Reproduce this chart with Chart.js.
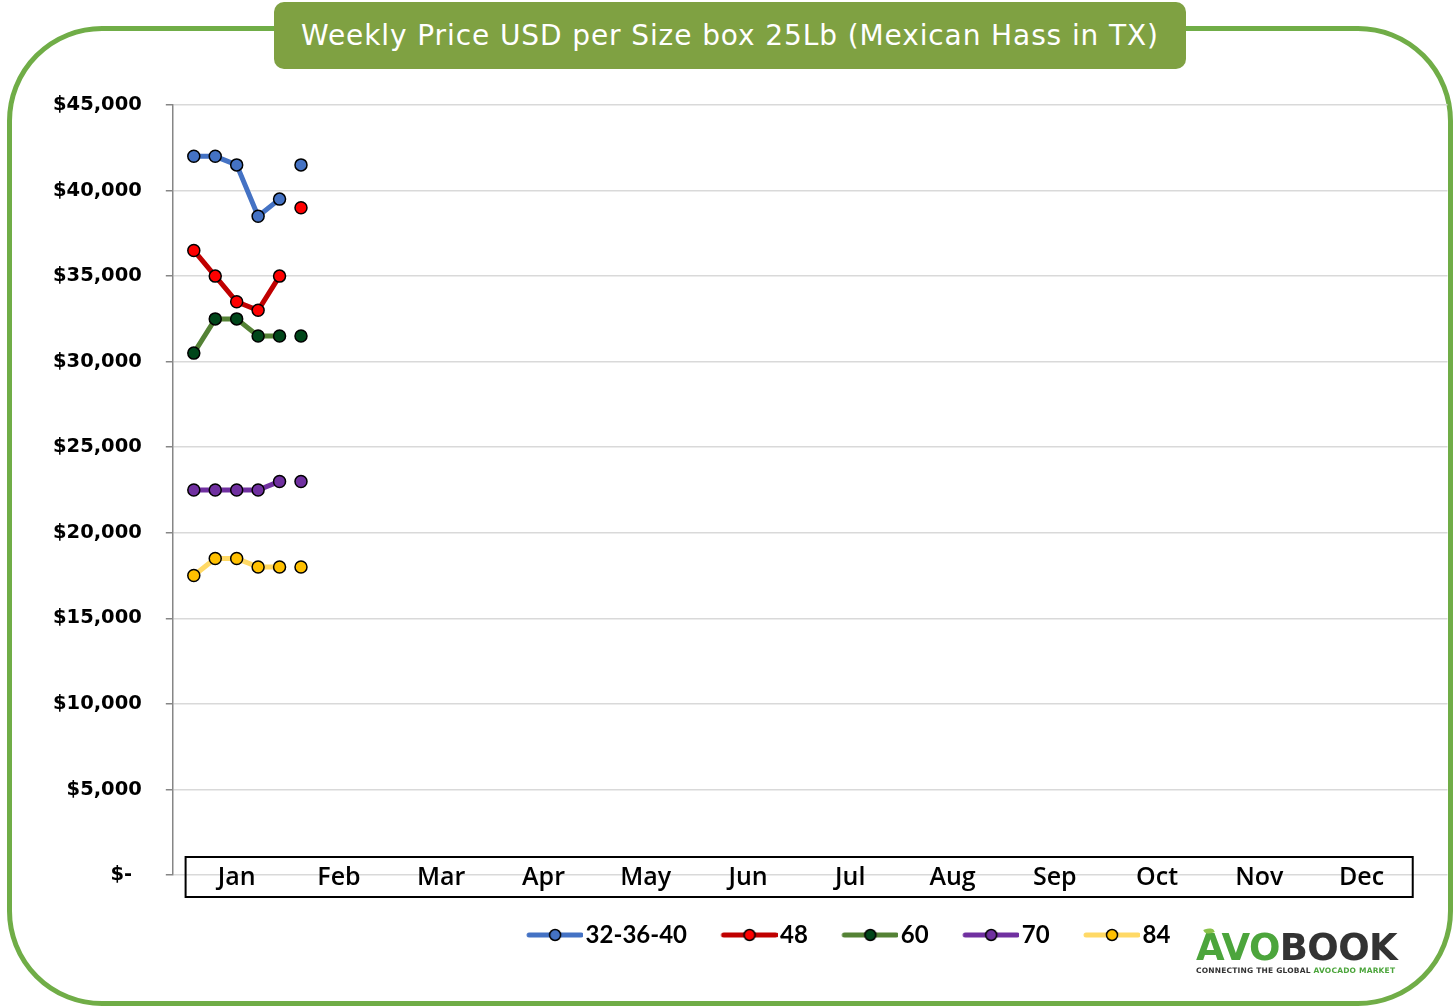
<!DOCTYPE html>
<html>
<head>
<meta charset="utf-8">
<script src="https://cdn.jsdelivr.net/npm/chart.js@4.4.1/dist/chart.umd.min.js"></script>
<style>
  html, body { margin:0; padding:0; background:#fff; overflow:hidden; }
  #wrap { position:relative; width:1455px; height:1006px; }
  #frame { position:absolute; left:7px; top:26px; width:1436px; height:970px; border:5px solid #70AD47; border-radius:95px; }
  #title { position:absolute; left:274px; top:2px; width:912px; height:67px; background:#7FA142; border-radius:10px;
           color:#fff; font:28px "DejaVu Sans"; letter-spacing:0.9px; text-align:center; line-height:67px; }
  canvas { position:absolute; left:0; top:0; }
  #logo { position:absolute; left:1196px; top:928px; width:205px; }
  #logo .name { font:bold 37px "DejaVu Sans"; letter-spacing:-0.6px; line-height:40px; }
  #logo .tag { font:bold 7.5px "DejaVu Sans"; color:#333; letter-spacing:0.2px; white-space:nowrap; margin-top:-2px; }
  #logo .g { color:#4CA53C; }
  #logo .d { color:#333; }
  #logo .leaf { position:absolute; left:8px; top:0px; width:10px; height:6px; background:#8BC34A; border-radius:0 80% 0 80%; transform:rotate(-20deg); }
</style>
</head>
<body>
<div id="wrap">
  <div id="frame"></div>
  <canvas id="priceChart" width="1455" height="1006"></canvas>
  <div id="title">Weekly Price USD per Size box 25Lb (Mexican Hass in TX)</div>
  <div id="logo">
    <div class="leaf"></div>
    <div class="name"><span class="g">AVO</span><span class="d">BOOK</span></div>
    <div class="tag">CONNECTING THE GLOBAL <span class="g">AVOCADO MARKET</span></div>
  </div>
</div>
<script>
const weeks = [1, 2, 3, 4, 5, 6];
const months = ["Jan","Feb","Mar","Apr","May","Jun","Jul","Aug","Sep","Oct","Nov","Dec"];
const sizes = ["32-36-40", "48", "60", "70", "84"];

const price323640 = [42000, 42000, 41500, 38500, 39500, 41500];
const price48     = [36500, 35000, 33500, 33000, 35000, 39000];
const price60     = [30500, 32500, 32500, 31500, 31500, 31500];
const price70     = [22500, 22500, 22500, 22500, 23000, 23000];
const price84     = [17500, 18500, 18500, 18000, 18000, 18000];

// the line is not joined into this week
const breakBeforeWeek = 6;

const lineColors   = ["#4472C4", "#C00000", "#548235", "#7030A0", "#FFD966"];
const markerColors = ["#4472C4", "#FF0000", "#00461A", "#7030A0", "#FFC000"];

const legendShift = 98;

function legendIcon(line, marker) {
  const c = document.createElement("canvas");
  c.width = 90; c.height = 16;
  const g = c.getContext("2d");
  g.strokeStyle = line; g.lineWidth = 5; g.lineCap = "round";
  g.beginPath(); g.moveTo(36, 8); g.lineTo(88, 8); g.stroke();
  g.beginPath(); g.arc(62, 8, 5.5, 0, Math.PI * 2);
  g.fillStyle = marker; g.fill();
  g.strokeStyle = "#000"; g.lineWidth = 1.5; g.stroke();
  return c;
}
const icons = lineColors.map((c, i) => legendIcon(c, markerColors[i]));

function makeSet(i, values) {
  return {
    label: sizes[i],
    data: values,
    borderColor: lineColors[i],
    backgroundColor: markerColors[i],
    borderWidth: 5,
    tension: 0,
    pointRadius: 6,
    pointHoverRadius: 6,
    pointBorderColor: "#000",
    pointBorderWidth: 1.5,
    pointBackgroundColor: markerColors[i],
    xAxisID: "x",
    segment: { borderColor: ctx => weeks[ctx.p1DataIndex] === breakBeforeWeek ? "rgba(0,0,0,0)" : undefined }
  };
}

const monthBox = {
  id: "monthBox",
  afterLayout(chart) {
    const lg = chart.legend;
    lg.left += legendShift; lg.right += legendShift;
  },
  beforeDatasetsDraw(chart) {
    const { ctx, chartArea } = chart;
    const x2 = chart.scales.x2;
    const l = x2.getPixelForValue(0.5), r = x2.getPixelForValue(months.length + 0.5);
    ctx.save();
    ctx.strokeStyle = "#000"; ctx.lineWidth = 2;
    ctx.strokeRect(l, chartArea.bottom - 18, r - l, 40);
    ctx.restore();
  }
};

new Chart(document.getElementById("priceChart").getContext("2d"), {
  type: "line",
  data: {
    labels: weeks,
    datasets: [
      makeSet(0, price323640),
      makeSet(1, price48),
      makeSet(2, price60),
      makeSet(3, price70),
      makeSet(4, price84)
    ]
  },
  options: {
    responsive: false,
    animation: false,
    layout: { padding: { left: 29, right: 7, top: 105, bottom: 49 } },
    plugins: {
      tooltip: { enabled: false },
      legend: {
        position: "bottom",
        labels: {
          usePointStyle: true,
          pointStyleWidth: 71,
          padding: 10,
          color: "#000",
          font: { family: "Lato", weight: "bold", size: 24 },
          generateLabels(chart) {
            const items = Chart.defaults.plugins.legend.labels.generateLabels(chart);
            items.forEach((it, i) => { it.pointStyle = icons[i]; });
            return items;
          }
        }
      }
    },
    scales: {
      x: { type: "linear", display: false, min: 0.021, max: 59.48 },
      x2: {
        type: "linear", position: "bottom", min: 0.375, max: 12.84,
        afterBuildTicks: s => { s.ticks = months.map((m, i) => ({ value: i + 1 })); },
        afterFit: s => { s.height = 38; },
        grid: { display: false, drawTicks: false },
        border: { display: false },
        ticks: {
          z: 1, mirror: true, padding: -18, color: "#000", maxRotation: 0, autoSkip: false,
          font: { family: "Open Sans", weight: "600", size: 25 },
          callback: v => months[v - 1]
        }
      },
      y: {
        min: 0, max: 45000,
        ticks: {
          stepSize: 5000, padding: 24, color: "#000",
          font: { family: "DejaVu Sans", weight: "bold", size: 19.5 },
          callback: v => v === 0 ? "$-\u2002" : "$" + v.toLocaleString("en-US")
        },
        grid: { color: "#D9D9D9", lineWidth: 1.5, tickLength: 7, tickColor: "#868686" },
        border: { color: "#868686", width: 1.5 }
      }
    }
  },
  plugins: [monthBox]
});
</script>
</body>
</html>
